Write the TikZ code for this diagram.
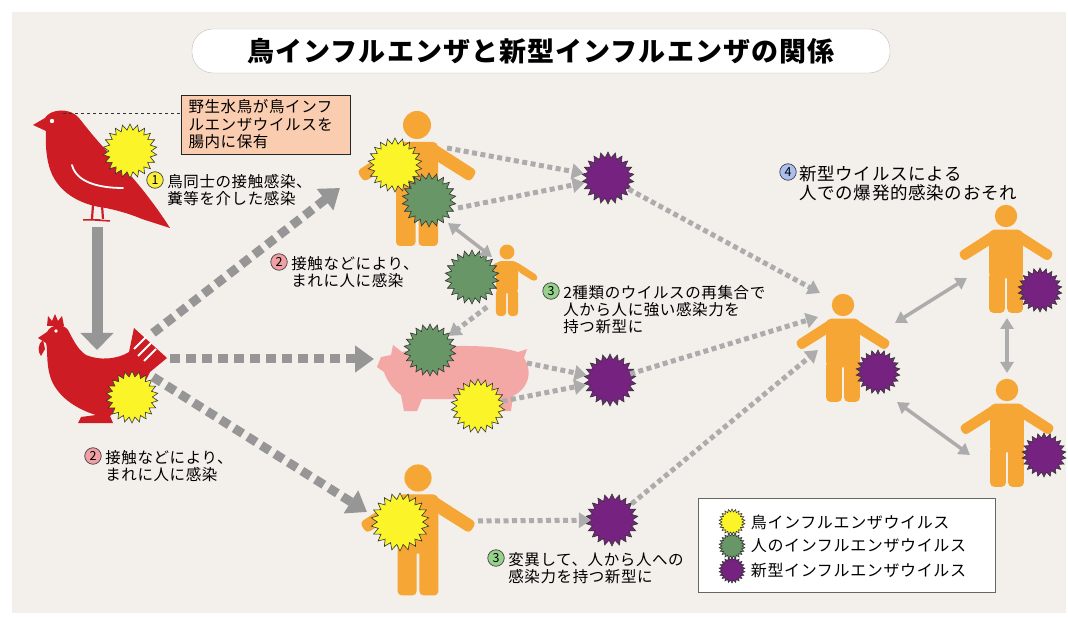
\documentclass[tikz,border=0pt]{standalone}
\usepackage{fontspec}
\setmainfont{Noto Sans CJK JP}[LetterSpace=4]
\usetikzlibrary{arrows.meta, shapes.geometric, positioning}

\definecolor{paper}{RGB}{243,239,235}
\definecolor{birdred}{RGB}{205,28,36}
\definecolor{skin}{RGB}{246,166,52}
\definecolor{pigpink}{RGB}{244,168,166}
\definecolor{avian}{RGB}{250,244,40}
\definecolor{seasonal}{RGB}{104,150,102}
\definecolor{novel}{RGB}{118,34,128}
\definecolor{arrowgray}{RGB}{150,150,150}
\definecolor{dotgray}{RGB}{172,172,172}
\definecolor{notefill}{RGB}{250,204,176}
\definecolor{numyellow}{RGB}{250,240,60}
\definecolor{numpink}{RGB}{240,160,165}
\definecolor{numgreen}{RGB}{150,210,140}
\definecolor{numblue}{RGB}{170,190,240}

\tikzset{
  virus/.style={star, star points=22, star point ratio=1.28, draw=black!80,
    line width=0.6pt, inner sep=0pt, minimum size=#1},
  virus/.default=52,
  num/.style={circle, draw=black!75, fill=#1, line width=0.7pt, inner sep=0pt,
    minimum size=16.5pt, font=\fontsize{12.5}{12.5}\selectfont},
  lbl/.style={inner sep=0pt, align=left, font=\fontsize{15.5}{17}\selectfont},
  banner/.style={rounded corners=21pt, draw=black!25, fill=white, minimum width=698pt,
    minimum height=44pt, font=\fontsize{27}{27}\selectfont\bfseries},
  infect/.style={draw=arrowgray, line width=9pt, dash pattern=on 10pt off 6pt,
    -{Triangle[length=19pt,width=26pt]}},
  spread/.style={draw=dotgray, line width=5pt, dash pattern=on 5pt off 3.5pt,
    -{Triangle[length=12pt,width=15pt]}},
  contact/.style={draw=dotgray, line width=3.5pt,
    {Triangle[length=11pt,width=13pt]}-{Triangle[length=11pt,width=13pt]}},
  human/.pic={
    \fill[skin] (0,0) circle (14);
    \fill[skin, rounded corners=5pt] (-21,17) rectangle (21,78);
    \fill[skin, rounded corners=4pt] (-21,70) rectangle (-1.5,121);
    \fill[skin, rounded corners=4pt] (1.5,70) rectangle (21,121);
    \fill[skin, rounded corners=4pt] (15,17) -- (60,46) -- (53,57) -- (18,35) -- cycle;
    \fill[skin, rounded corners=4pt] (-15,17) -- (-60,46) -- (-53,57) -- (-18,35) -- cycle;
  }
}

\begin{document}
\begin{tikzpicture}[x=1pt, y=-1pt]
  \useasboundingbox (0,0) rectangle (1068,617);
  \fill[paper] (12,12) rectangle (1066,613);

  \node[banner] (title) at (541,51) {鳥インフルエンザと新型インフルエンザの関係};

  % wild bird
  \fill[birdred] (33,125) -- (45,118)
    .. controls (50,109) and (70,107) .. (79,118)
    .. controls (90,132) and (102,147) .. (117,161)
    .. controls (137,181) and (156,206) .. (170,228)
    -- (142,219)
    .. controls (128,213) and (115,210) .. (106,208)
    .. controls (80,205) and (56,192) .. (49,166)
    .. controls (45,151) and (46,139) .. (46,131)
    -- cycle;
  \draw[birdred, line width=2.2pt] (93,205) -- (92,219) (102,205) -- (103,219);
  \draw[birdred, line width=1.5pt] (83,220) -- (100,220) (95,220) -- (110,221);
  \fill[white] (52,121) circle (2.2);
  \draw[white, line width=1.8pt, line cap=round] (72,165) .. controls (76,181) and (96,188) .. (123,188);

  % hen
  \fill[birdred] (47,326) -- (48,316) -- (52,321) -- (55,314) -- (58,321) -- (62,316) -- (64,326) -- cycle;
  \fill[birdred] (38,338) -- (47,332)
    .. controls (51,324) and (63,323) .. (68,330)
    .. controls (73,339) and (77,349) .. (86,355)
    .. controls (100,361) and (118,359) .. (129,352)
    -- (134,328) -- (167,358) -- (150,372)
    .. controls (142,390) and (131,401) .. (118,408)
    -- (110,416) -- (113,423) -- (78,423) -- (81,417) -- (96,415)
    .. controls (76,409) and (56,396) .. (50,376)
    .. controls (46,362) and (48,350) .. (46,343)
    -- cycle;
  \fill[birdred] (43,340) .. controls (37,345) and (38,352) .. (41,356) -- (45,349) -- cycle;
  \fill[white] (56,331) circle (1.8);
  \draw[white, line width=1.8pt] (134,349) -- (146,337) (138,356) -- (151,343) (144,361) -- (156,349);

  % pig
  \fill[pigpink] (377,367) -- (381,357) -- (391,355) -- (393,345) -- (402,352)
    .. controls (430,345) and (490,343) .. (518,352)
    -- (527,349) -- (524,358)
    .. controls (533,371) and (529,388) .. (513,396)
    -- (511,411) -- (499,411) -- (496,399)
    -- (422,399) -- (417,411) -- (404,411) -- (401,395)
    .. controls (391,388) and (386,378) .. (384,372)
    -- cycle;

  % people
  \pic at (417,125) {human};
  \pic[scale=0.53] at (507,252) {human};
  \pic[scale=0.97] at (418,478) {human};
  \pic[scale=0.8] at (843,305) {human};
  \pic[scale=0.8] at (1006,216) {human};
  \pic[scale=0.8] at (1007,390) {human};

  % viruses
  \node[virus=54, fill=avian] (bird av) at (130,151) {};
  \node[virus=52, fill=avian] (hen av) at (132,397) {};
  \node[virus=54, fill=avian] (man av) at (395,165) {};
  \node[virus=54, fill=seasonal] (man hu) at (429,200) {};
  \node[virus=52, fill=novel] (novel1) at (608,178) {};
  \node[virus=54, fill=seasonal] (kid hu) at (472,277) {};
  \node[virus=52, fill=seasonal] (pig hu) at (430,350) {};
  \node[virus=54, fill=avian] (pig av) at (478,406) {};
  \node[virus=52, fill=novel] (novel2) at (610,380) {};
  \node[virus=58, fill=avian] (mut av) at (400,522) {};
  \node[virus=52, fill=novel] (novel3) at (612,520) {};
  \node[virus=44, fill=novel] (hub nv) at (878,372) {};
  \node[virus=44, fill=novel] (up nv) at (1040,290) {};
  \node[virus=44, fill=novel] (low nv) at (1044,455) {};

  % free ends of the connectors
  \coordinate (crown) at (63,113);
  \coordinate (bird foot) at (97,227);
  \coordinate (hen back) at (97,350);
  \coordinate (hen top) at (153,333);
  \coordinate (hen mid) at (170,359);
  \coordinate (hen low) at (153,377);
  \coordinate (man side) at (340,188);
  \coordinate (pig snout) at (374,359);
  \coordinate (mut side) at (367,512);
  \coordinate (man hand) at (447,148);
  \coordinate (man hip) at (458,208);
  \coordinate (man leg) at (448,223);
  \coordinate (kid head) at (492,257);
  \coordinate (kid foot) at (487,307);
  \coordinate (pig tail) at (527,363);
  \coordinate (mut hand) at (478,521);
  \coordinate (hub in1) at (820,293);
  \coordinate (hub in2) at (818,317);
  \coordinate (hub in3) at (818,350);
  \coordinate (hub ne) at (895,323);
  \coordinate (hub se) at (897,402);
  \coordinate (up sw) at (967,278);
  \coordinate (up foot) at (1007,318);
  \coordinate (low nw) at (970,455);
  \coordinate (low head) at (1007,373);

  % note on the wild bird
  \node[draw=black!85, fill=notefill, line width=0.8pt, minimum width=169pt, minimum height=59pt,
    text width=154pt, align=left, inner sep=0pt, font=\fontsize{15.5}{17.5}\selectfont] (note) at (265.5,124.5)
    {野生水鳥が鳥インフ\\ルエンザウイルスを\\腸内に保有};
  \draw[dashed, black!80, line width=0.7pt] (crown) -- (crown -| note.west);

  % arrows
  \draw[draw=arrowgray, line width=11pt, -{Triangle[length=17pt,width=32pt]}] (bird foot) -- (hen back);
  \draw[infect] (hen top) -- (man side);
  \draw[infect] (hen mid) -- (pig snout);
  \draw[infect] (hen low) -- (mut side);

  \draw[spread] (man hand) -- (novel1);
  \draw[spread] (man hip) -- (novel1);
  \draw[spread] (kid foot) -- (pig hu);
  \draw[spread] (pig tail) -- (novel2);
  \draw[spread] (pig av) -- (novel2);
  \draw[spread] (mut hand) -- (novel3);
  \draw[spread] (novel1) -- (hub in1);
  \draw[spread] (novel2) -- (hub in2);
  \draw[spread] (novel3) -- (hub in3);

  \draw[contact] (man leg) -- (kid head);
  \draw[contact] (hub ne) -- (up sw);
  \draw[contact] (hub se) -- (low nw);
  \draw[contact] (up foot) -- (low head);

  % numbered captions
  \node[num=numyellow] (n1) at (155,180) {1};
  \node[lbl, right=6pt of n1.north east, anchor=north west] (t1) {鳥同士の接触感染、\\糞等を介した感染};
  \node[num=numpink] (n2) at (279,262) {2};
  \node[lbl, right=6pt of n2.north east, anchor=north west] (t2) {接触などにより、\\まれに人に感染};
  \node[num=numpink] (n2b) at (93,456) {2};
  \node[lbl, right=6pt of n2b.north east, anchor=north west] (t2b) {接触などにより、\\まれに人に感染};
  \node[num=numgreen] (n3) at (551,291) {3};
  \node[lbl, right=6pt of n3.north east, anchor=north west] (t3) {2種類のウイルスの再集合で\\人から人に強い感染力を\\持つ新型に};
  \node[num=numgreen] (n3b) at (496,558) {3};
  \node[lbl, right=6pt of n3b.north east, anchor=north west] (t3b) {変異して、人から人への\\感染力を持つ新型に};
  \node[num=numblue] (n4) at (788,172) {4};
  \node[lbl, right=5pt of n4.north east, anchor=north west, font=\fontsize{17.5}{18.5}\selectfont] (t4)
    {新型ウイルスによる\\人での爆発的感染のおそれ};

  % legend
  \node[draw=black!60, fill=white, line width=0.8pt, minimum width=297pt, minimum height=94pt] (legend) at (847,545) {};
  \node[virus=26, fill=avian] (key1) at (732,522) {};
  \node[lbl, right=8pt of key1, font=\fontsize{16}{16}\selectfont] {鳥インフルエンザウイルス};
  \node[virus=26, fill=seasonal] (key2) at (732,546) {};
  \node[lbl, right=8pt of key2, font=\fontsize{16}{16}\selectfont] {人のインフルエンザウイルス};
  \node[virus=26, fill=novel] (key3) at (732,570) {};
  \node[lbl, right=8pt of key3, font=\fontsize{16}{16}\selectfont] {新型インフルエンザウイルス};
\end{tikzpicture}
\end{document}
